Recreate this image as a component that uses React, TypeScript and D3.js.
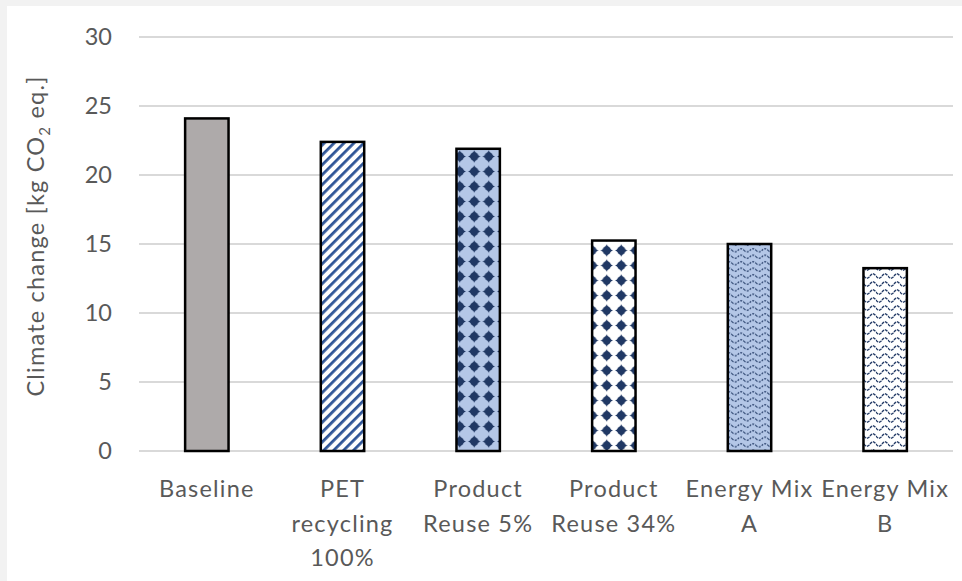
import React from "react";
import * as d3 from "d3";

const categories: string[][] = [
  ["Baseline"],
  ["PET", "recycling", "100%"],
  ["Product", "Reuse 5%"],
  ["Product", "Reuse 34%"],
  ["Energy Mix", "A"],
  ["Energy Mix", "B"],
];
const values: number[] = [24.1, 22.4, 21.9, 15.25, 15.0, 13.25];
const patternIds: string[] = ["solid", "stripes", "dotsBlue", "dotsWhite", "waveBlue", "waveWhite"];
const yTicks: number[] = [0, 5, 10, 15, 20, 25, 30];

const W = 962;
const H = 581;
const FONT = "Lato, 'Open Sans', sans-serif";
const FS = 23.5;
const LS = 1.2;
const TEXT = "#595959";
const NAVY = "#203864";
const LIGHT = "#b4c7e7";

export default function App() {
  const x = d3
    .scaleBand<number>()
    .domain(categories.map((_, i) => i))
    .range([139, 953])
    .paddingInner(0.68)
    .paddingOuter(0.34);
  const y = d3.scaleLinear().domain([0, 30]).range([451, 37]);

  const waveRow = (period: number, amp: number, w: number, yy: number) => {
    const pts: [number, number][] = [];
    for (let i = 0; i <= 40; i++) {
      const t = (i / 40) * w;
      pts.push([t, yy + amp * Math.sin((t / period) * 2 * Math.PI)]);
    }
    return d3.line()(pts) || "";
  };

  const dot = (cx: number, cy: number, r: number) =>
    `M${cx},${cy - r * 1.35} Q${cx + r * 0.4},${cy - r * 0.4} ${cx + r * 1.35},${cy} Q${cx + r * 0.4},${cy + r * 0.4} ${cx},${cy + r * 1.35} Q${cx - r * 0.4},${cy + r * 0.4} ${cx - r * 1.35},${cy} Q${cx - r * 0.4},${cy - r * 0.4} ${cx},${cy - r * 1.35}Z`;

  return (
    <svg width={W} height={H} style={{ display: "block", position: "absolute", left: 0, top: 0 }}>
      <defs>
        <pattern id="stripes" patternUnits="userSpaceOnUse" width="7" height="7" patternTransform="rotate(45)">
          <rect width="7" height="7" fill="#ffffff" />
          <rect x="0" y="0" width="2.8" height="7" fill="#2f5597" />
        </pattern>
        <pattern id="dotsBlue" patternUnits="userSpaceOnUse" width="14.5" height="15" x="3" y="-1">
          <rect width="14.5" height="15" fill={LIGHT} />
          <circle cx="7.25" cy="7.5" r="4.2" fill={NAVY} />
          <path d={dot(7.25, 7.5, 4.6)} fill={NAVY} />
        </pattern>
        <pattern id="dotsWhite" patternUnits="userSpaceOnUse" width="14.5" height="15" x="5" y="3">
          <rect width="14.5" height="15" fill="#ffffff" />
          <circle cx="7.25" cy="7.5" r="4.2" fill={NAVY} />
          <path d={dot(7.25, 7.5, 4.6)} fill={NAVY} />
        </pattern>
        <pattern id="waveBlue" patternUnits="userSpaceOnUse" width="12" height="6.5">
          <rect width="12" height="6.5" fill={LIGHT} />
          <path d={waveRow(12, 1.6, 12, 3.25)} stroke={NAVY} strokeWidth="1.2" fill="none" strokeDasharray="2 1.2" />
        </pattern>
        <pattern id="waveWhite" patternUnits="userSpaceOnUse" width="12" height="8">
          <rect width="12" height="8" fill="#ffffff" />
          <path d={waveRow(12, 2.2, 12, 4)} stroke={NAVY} strokeWidth="1.4" fill="none" strokeDasharray="3 0.8" />
        </pattern>
      </defs>
      <rect x={0} y={0} width={W} height={H} fill="#f2f2f2" />
      <rect x={7} y={6} width={W - 7} height={H - 6} fill="#ffffff" />

      {yTicks.map((t) => (
        <g key={t}>
          <line x1={139} x2={953} y1={y(t)} y2={y(t)} stroke="#d9d9d9" strokeWidth={2} />
          <text
            x={112}
            y={y(t)}
            dy="0.36em"
            textAnchor="end"
            fontFamily={FONT}
            fontSize={FS}
            fill={TEXT}
          >
            {t}
          </text>
        </g>
      ))}

      <text
        transform={`translate(44,${y(15) - 8}) rotate(-90)`}
        textAnchor="middle"
        fontFamily={FONT}
        fontSize={FS}
        letterSpacing={LS}
        fill={TEXT}
      >
        Climate change [kg CO<tspan fontSize={15} dy={6}>2</tspan>
        <tspan dy={-6}> eq.]</tspan>
      </text>

      {values.map((v, i) => {
        const pid = patternIds[i];
        const fill = pid === "solid" ? "#aeaaaa" : `url(#${pid})`;
        return (
          <rect
            key={i}
            x={x(i)!}
            y={y(v)}
            width={x.bandwidth()}
            height={y(0) - y(v)}
            fill={fill}
            stroke="#000000"
            strokeWidth={2.5}
          />
        );
      })}

      {categories.map((lines, i) => (
        <text
          key={i}
          x={x(i)! + x.bandwidth() / 2}
          y={497}
          textAnchor="middle"
          fontFamily={FONT}
          fontSize={FS}
          letterSpacing={LS}
          fill={TEXT}
        >
          {lines.map((l, j) => (
            <tspan key={j} x={x(i)! + x.bandwidth() / 2} dy={j === 0 ? 0 : 34.5}>
              {l}
            </tspan>
          ))}
        </text>
      ))}
    </svg>
  );
}
